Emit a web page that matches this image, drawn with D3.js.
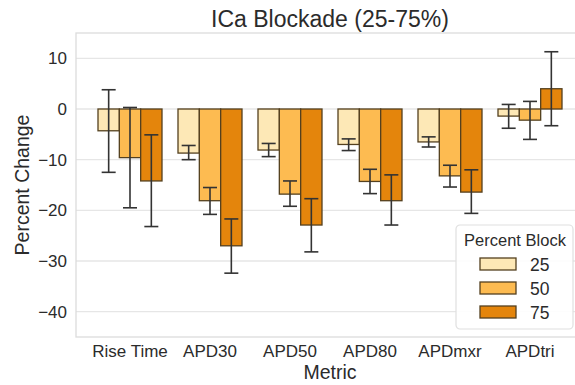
<!DOCTYPE html>
<html>
<head>
<meta charset="utf-8">
<script src="https://cdn.jsdelivr.net/npm/d3@7"></script>
<style>
  body { margin: 0; background: #fff; }
  text { font-family: "Liberation Sans", Arial, sans-serif; fill: #2b2b2b; }
</style>
</head>
<body>
<div id="chart"></div>
<script>
const metrics = ['Rise Time', 'APD30', 'APD50', 'APD80', 'APDmxr', 'APDtri'];
const blocks = ['25', '50', '75'];

// mean percent change per block level, one entry per metric
const block25 = [-4.3, -8.7, -8.1, -7.0, -6.5, -1.4];
const block50 = [-9.6, -18.1, -16.8, -14.3, -13.2, -2.2];
const block75 = [-14.2, -27.0, -22.9, -18.1, -16.4, 4.0];

// error bar ends [high, low]
const err25 = [[3.8, -12.5], [-7.2, -10.0], [-6.8, -9.4], [-5.9, -8.2], [-5.5, -7.5], [0.9, -3.8]];
const err50 = [[0.3, -19.5], [-15.5, -20.8], [-14.2, -19.2], [-11.9, -16.7], [-11.1, -15.4], [1.5, -6.0]];
const err75 = [[-5.1, -23.2], [-21.7, -32.4], [-17.7, -28.2], [-13.0, -22.9], [-12.0, -20.6], [11.3, -3.3]];

const yTicks = [10, 0, -10, -20, -30, -40];
const colors = ['#fde8b6', '#fdbb51', '#e4850c'];

const width = 575;
const height = 385;
const margins = { left: 76, right: -9, top: 33, bottom: 48 };

const svg = d3.select('#chart').append('svg')
  .attr('width', width)
  .attr('height', height);

const x = d3.scaleBand()
  .domain(metrics)
  .range([margins.left + 14, width - margins.right - 14])
  .paddingInner(0)
  .paddingOuter(0);

const inner = d3.scaleBand()
  .domain(blocks)
  .range([x.bandwidth() * 0.1, x.bandwidth() * 0.9]);

const y = d3.scaleLinear()
  .domain([-45, 15])
  .range([height - margins.bottom, margins.top]);

const plot = svg.append('g');

// grid
plot.selectAll('line.grid')
  .data(yTicks)
  .enter().append('line')
  .attr('class', 'grid')
  .attr('x1', margins.left)
  .attr('x2', width - margins.right)
  .attr('y1', (d) => y(d))
  .attr('y2', (d) => y(d))
  .attr('stroke', '#e6e6e6')
  .attr('stroke-width', 1.3);

// frame
plot.append('rect')
  .attr('x', margins.left)
  .attr('y', margins.top)
  .attr('width', width - margins.right - margins.left)
  .attr('height', height - margins.bottom - margins.top)
  .attr('fill', 'none')
  .attr('stroke', '#dcdcdc')
  .attr('stroke-width', 1.3);

const series = [
  { key: '25', values: block25, errs: err25, color: colors[0] },
  { key: '50', values: block50, errs: err50, color: colors[1] },
  { key: '75', values: block75, errs: err75, color: colors[2] },
];

series.forEach((s) => {
  const g = plot.append('g');
  g.selectAll('rect')
    .data(metrics)
    .enter().append('rect')
    .attr('x', (m) => x(m) + inner(s.key))
    .attr('width', inner.bandwidth())
    .attr('y', (m, i) => y(Math.max(0, s.values[i])))
    .attr('height', (m, i) => Math.abs(y(s.values[i]) - y(0)))
    .attr('fill', s.color)
    .attr('stroke', '#54401f')
    .attr('stroke-width', 1.3);

  const eb = g.selectAll('g.err')
    .data(metrics)
    .enter().append('g')
    .attr('class', 'err')
    .attr('transform', (m) => `translate(${x(m) + inner(s.key) + inner.bandwidth() / 2},0)`);
  eb.append('line')
    .attr('y1', (m, i) => y(s.errs[i][0]))
    .attr('y2', (m, i) => y(s.errs[i][1]))
    .attr('stroke', '#333')
    .attr('stroke-width', 1.6);
  [0, 1].forEach((k) => {
    eb.append('line')
      .attr('x1', -7).attr('x2', 7)
      .attr('y1', (m, i) => y(s.errs[i][k]))
      .attr('y2', (m, i) => y(s.errs[i][k]))
      .attr('stroke', '#333')
      .attr('stroke-width', 1.6);
  });
});

// axes
const yAxis = svg.append('g')
  .attr('transform', `translate(${margins.left},0)`)
  .call(d3.axisLeft(y).tickValues(yTicks).tickSize(0).tickPadding(9).tickFormat((d) => d3.format('')(d).replace('-', '\u2212')));
yAxis.select('.domain').remove();
yAxis.selectAll('text').style('font-size', '17px').attr('fill', '#2b2b2b');

const xAxis = svg.append('g')
  .attr('transform', `translate(0,${height - margins.bottom})`)
  .call(d3.axisBottom(x).tickSize(0).tickPadding(8));
xAxis.select('.domain').remove();
xAxis.selectAll('text').style('font-size', '17px').attr('fill', '#2b2b2b');

svg.append('text')
  .attr('x', (margins.left + width - margins.right) / 2)
  .attr('y', 27)
  .attr('text-anchor', 'middle')
  .style('font-size', '23px')
  .text('ICa Blockade (25-75%)');

svg.append('text')
  .attr('x', (margins.left + width - margins.right) / 2)
  .attr('y', 379)
  .attr('text-anchor', 'middle')
  .style('font-size', '19.5px')
  .text('Metric');

svg.append('text')
  .attr('transform', `translate(29,${y(-15)}) rotate(-90)`)
  .attr('text-anchor', 'middle')
  .style('font-size', '19.5px')
  .text('Percent Change');

// legend
const legend = svg.append('g').attr('transform', 'translate(456,225)');
legend.append('rect')
  .attr('width', 117)
  .attr('height', 104)
  .attr('rx', 4)
  .attr('fill', '#fff')
  .attr('fill-opacity', 0.9)
  .attr('stroke', '#e0e0e0')
  .attr('stroke-width', 1.2);
legend.append('text')
  .attr('x', 59)
  .attr('y', 21)
  .attr('text-anchor', 'middle')
  .style('font-size', '16.5px')
  .text('Percent Block');
series.forEach((s, i) => {
  const row = legend.append('g').attr('transform', `translate(24,${33 + i * 24})`);
  row.append('rect')
    .attr('width', 36)
    .attr('height', 12)
    .attr('fill', s.color)
    .attr('stroke', '#54401f')
    .attr('stroke-width', 1.3);
  row.append('text')
    .attr('x', 50)
    .attr('y', 12.5)
    .style('font-size', '17.5px')
    .text(s.key);
});
</script>
</body>
</html>
